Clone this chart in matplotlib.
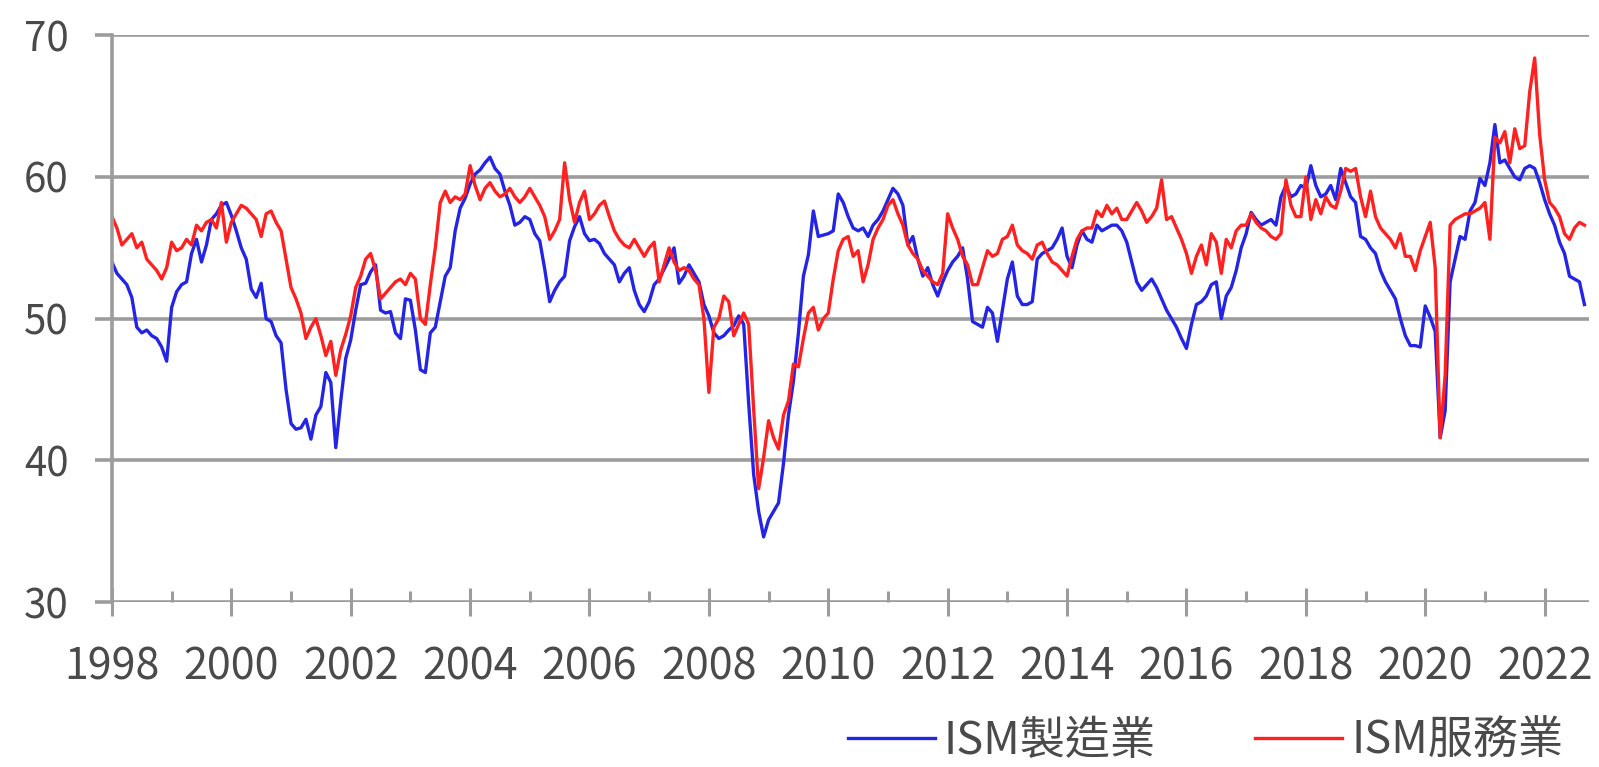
import numpy as np
import matplotlib.pyplot as plt

plt.rcParams['font.family'] = ['Noto Sans CJK TC', 'DejaVu Sans']

# monthly values, Jan 1998 .. Sep 2022
ism_manufacturing = [
    54.0, 53.2, 52.8, 52.4, 51.5, 49.4, 49.0, 49.2, 48.8, 48.6, 48.0, 47.0,  # 1998
    50.8, 51.9, 52.4, 52.6, 54.6, 55.6, 54.0, 55.2, 57.0, 57.4, 58.0, 58.2,  # 1999
    57.3, 56.2, 55.0, 54.2, 52.1, 51.5, 52.5, 50.0, 49.8, 48.8, 48.3, 45.0,  # 2000
    42.6, 42.2, 42.3, 42.9, 41.5, 43.2, 43.8, 46.2, 45.5, 40.9, 44.2, 47.2,  # 2001
    48.5, 50.6, 52.4, 52.5, 53.3, 53.8, 50.6, 50.4, 50.5, 49.0, 48.6, 51.4,  # 2002
    51.3, 49.2, 46.4, 46.2, 49.0, 49.4, 51.2, 53.0, 53.6, 56.2, 57.8, 58.5,  # 2003
    59.5, 60.2, 60.5, 61.0, 61.4, 60.6, 60.2, 59.0, 58.0, 56.6, 56.8, 57.2,  # 2004
    57.0, 56.0, 55.5, 53.5, 51.2, 52.0, 52.6, 53.0, 55.5, 56.5, 57.2, 56.0,  # 2005
    55.5, 55.6, 55.3, 54.6, 54.2, 53.8, 52.6, 53.2, 53.6, 52.0, 51.0, 50.5,  # 2006
    51.2, 52.4, 52.8, 53.5, 54.2, 55.0, 52.5, 53.0, 53.8, 53.2, 52.6, 51.0,  # 2007
    50.2, 49.0, 48.6, 48.8, 49.2, 49.5, 50.2, 49.6, 44.0, 39.0, 36.4, 34.6,  # 2008
    35.8, 36.4, 37.0, 39.8, 43.2, 45.6, 49.0, 53.0, 54.5, 57.6, 55.8, 55.9,  # 2009
    56.0, 56.2, 58.8, 58.2, 57.2, 56.4, 56.2, 56.4, 55.8, 56.6, 57.0, 57.6,  # 2010
    58.4, 59.2, 58.8, 58.0, 55.2, 55.8, 54.2, 53.0, 53.6, 52.4, 51.6, 52.6,  # 2011
    53.4, 54.0, 54.4, 55.0, 52.8, 49.8, 49.6, 49.4, 50.8, 50.4, 48.4, 50.6,  # 2012
    52.8, 54.0, 51.6, 51.0, 51.0, 51.2, 54.2, 54.6, 54.8, 55.0, 55.6, 56.4,  # 2013
    54.4, 53.6, 55.2, 56.2, 55.6, 55.4, 56.6, 56.2, 56.4, 56.6, 56.6, 56.2,  # 2014
    55.4, 54.0, 52.6, 52.0, 52.4, 52.8, 52.2, 51.4, 50.6, 50.0, 49.4, 48.6,  # 2015
    47.9, 49.6, 51.0, 51.2, 51.6, 52.4, 52.6, 50.0, 51.6, 52.2, 53.4, 55.0,  # 2016
    56.0, 57.5, 57.0, 56.6, 56.8, 57.0, 56.6, 58.6, 59.4, 58.6, 58.8, 59.4,  # 2017
    59.2, 60.8, 59.4, 58.6, 58.8, 59.4, 58.4, 60.6, 59.6, 58.6, 58.2, 55.8,  # 2018
    55.6, 55.0, 54.6, 53.4, 52.6, 52.0, 51.4, 50.0, 48.8, 48.1, 48.1, 48.0,  # 2019
    50.9, 50.1, 49.1, 41.6, 43.5, 52.6, 54.2, 55.8, 55.6, 57.6, 58.2, 59.9,  # 2020
    59.4, 61.0, 63.7, 61.0, 61.2, 60.6, 60.0, 59.8, 60.6, 60.8, 60.6, 59.6,  # 2021
    58.4, 57.4, 56.6, 55.4, 54.6, 53.0, 52.8, 52.6, 51.0,                    # 2022
]

ism_services = [
    57.2, 56.4, 55.2, 55.6, 56.0, 55.0, 55.4, 54.2, 53.8, 53.4, 52.8, 53.6,  # 1998
    55.4, 54.8, 55.0, 55.6, 55.2, 56.6, 56.2, 56.8, 57.0, 56.4, 58.2, 55.4,  # 1999
    56.8, 57.4, 58.0, 57.8, 57.4, 57.0, 55.8, 57.4, 57.6, 56.8, 56.2, 54.2,  # 2000
    52.2, 51.4, 50.4, 48.6, 49.4, 50.0, 48.8, 47.4, 48.4, 46.0, 47.8, 48.9,  # 2001
    50.2, 52.2, 53.0, 54.2, 54.6, 53.4, 51.4, 51.8, 52.2, 52.6, 52.8, 52.4,  # 2002
    53.2, 52.8, 50.0, 49.6, 52.4, 55.0, 58.2, 59.0, 58.2, 58.6, 58.4, 58.8,  # 2003
    60.8, 59.4, 58.4, 59.2, 59.6, 59.0, 58.6, 58.8, 59.2, 58.6, 58.2, 58.6,  # 2004
    59.2, 58.6, 58.0, 57.2, 55.6, 56.2, 57.0, 61.0, 58.4, 56.8, 58.2, 59.0,  # 2005
    57.0, 57.4, 58.0, 58.3, 57.2, 56.2, 55.6, 55.2, 55.0, 55.6, 55.0, 54.4,  # 2006
    55.0, 55.4, 52.6, 53.8, 55.0, 54.0, 53.4, 53.6, 53.4, 52.8, 52.4, 50.0,  # 2007
    44.8, 49.4, 50.0, 51.6, 51.2, 48.8, 49.6, 50.4, 49.6, 43.6, 38.0, 40.2,  # 2008
    42.8, 41.6, 40.8, 43.2, 44.2, 46.8, 46.6, 48.6, 50.4, 50.8, 49.2, 50.0,  # 2009
    50.4, 52.8, 54.8, 55.6, 55.8, 54.4, 54.8, 52.6, 53.8, 55.6, 56.4, 57.0,  # 2010
    58.0, 58.4, 57.4, 56.6, 55.2, 54.6, 54.2, 53.4, 53.0, 52.6, 52.4, 53.2,  # 2011
    57.4, 56.4, 55.6, 54.4, 53.8, 52.4, 52.4, 53.6, 54.8, 54.4, 54.6, 55.6,  # 2012
    55.8, 56.6, 55.2, 54.8, 54.6, 54.2, 55.2, 55.4, 54.6, 54.0, 53.8, 53.4,  # 2013
    53.0, 54.4, 55.6, 56.2, 56.4, 56.4, 57.6, 57.2, 58.0, 57.4, 57.8, 57.0,  # 2014
    57.0, 57.6, 58.2, 57.6, 56.8, 57.2, 57.8, 59.8, 57.0, 57.2, 56.4, 55.6,  # 2015
    54.6, 53.2, 54.4, 55.2, 53.8, 56.0, 55.4, 53.2, 55.6, 55.0, 56.2, 56.6,  # 2016
    56.6, 57.4, 56.8, 56.4, 56.2, 55.8, 55.6, 56.0, 59.8, 58.0, 57.2, 57.2,  # 2017
    60.0, 57.0, 58.4, 57.4, 58.6, 58.0, 57.8, 59.0, 60.6, 60.4, 60.6, 58.6,  # 2018
    57.2, 59.0, 57.2, 56.4, 56.0, 55.6, 55.0, 56.0, 54.4, 54.4, 53.4, 54.8,  # 2019
    55.8, 56.8, 53.6, 41.6, 46.0, 56.6, 57.0, 57.2, 57.4, 57.4, 57.6, 57.8,  # 2020
    58.2, 55.6, 62.8, 62.4, 63.2, 61.0, 63.4, 62.0, 62.2, 66.0, 68.4, 63.0,  # 2021
    59.8, 58.2, 57.8, 57.2, 56.0, 55.6, 56.4, 56.8, 56.6,                    # 2022
]

year_labels = [str(y) for y in range(1998, 2023, 2)]
y_ticks = [30, 40, 50, 60, 70]
series_names = ["ISM製造業", "ISM服務業"]

GRID = "#9c9c9c"
TEXT = "#4a4a4a"

months = np.arange(len(ism_manufacturing))

fig = plt.figure(figsize=(15.99, 7.67), dpi=100)
ax = fig.add_axes([0.070, 0.215, 0.924, 0.739])

ax.plot(months, ism_manufacturing, color="#2424e6", lw=2.4, label=series_names[0])
ax.plot(months, ism_services, color="#ff2020", lw=2.4, label=series_names[1])

ax.set_xlim(0, 297)
ax.set_ylim(30, 70)
ax.set_yticks(y_ticks)
ax.set_yticklabels([str(v) for v in y_ticks])
ax.set_xticks(np.arange(0, 297, 24))
ax.set_xticklabels(year_labels)
ax.set_xticks(np.arange(12, 297, 24), minor=True)

ax.grid(axis="y", color=GRID, lw=2.6)
ax.set_axisbelow(True)
for s in ["top", "right", "bottom"]:
    ax.spines[s].set_visible(False)
ax.spines["left"].set_color(GRID)
ax.spines["left"].set_linewidth(2.6)

ax.tick_params(axis="y", direction="out", length=12, width=2.6, color=GRID,
               labelsize=29, labelcolor=TEXT, pad=19)
ax.tick_params(axis="x", which="major", direction="inout", length=20, width=2.2,
               color=GRID, labelsize=31, labelcolor=TEXT, pad=21)
ax.tick_params(axis="x", which="minor", direction="in", length=8, width=2.2, color=GRID)

# legend sits low in the picture, just clear of the bottom edge
fig.legend(loc="center", bbox_to_anchor=(0.754, 0.034), ncol=2, frameon=False,
           fontsize=32.5, handlelength=1.93, handletextpad=0.2, columnspacing=2.2,
           labelcolor=TEXT, borderpad=0.1)

fig.savefig("out.png", dpi=100, facecolor="white")
